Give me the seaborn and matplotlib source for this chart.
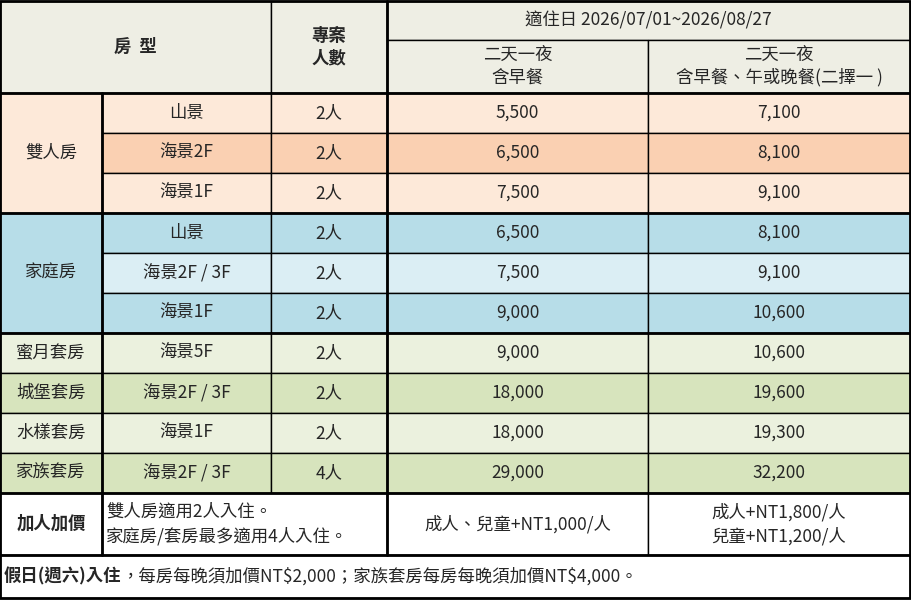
import matplotlib.pyplot as plt
import seaborn as sns
from matplotlib.patches import Rectangle

sns.set_theme(style="white")
plt.rcParams["font.family"] = ["Noto Sans CJK TC", "DejaVu Sans"]

# data
groups = ["雙人房", "家庭房", "蜜月套房", "城堡套房", "水樣套房", "家族套房"]
group_rows = [3, 3, 1, 1, 1, 1]
views = ["山景", "海景2F", "海景1F", "山景", "海景2F / 3F", "海景1F",
         "海景5F", "海景2F / 3F", "海景1F", "海景2F / 3F"]
people = ["2人"] * 9 + ["4人"]
price_breakfast = [5500, 6500, 7500, 6500, 7500, 9000, 9000, 18000, 18000, 29000]
price_two_meals = [7100, 8100, 9100, 8100, 9100, 10600, 10600, 19600, 19300, 32200]
row_colors = ["#fde9d9", "#fad0b2", "#fde9d9", "#b7dde8", "#dbeef4", "#b7dde8",
              "#ebf1de", "#d7e4bd", "#ebf1de", "#d7e4bd"]
group_colors = ["#fde9d9", "#b7dde8", "#ebf1de", "#d7e4bd", "#ebf1de", "#d7e4bd"]

xs = [0, 102, 271, 387, 648, 910]
header_top, sub_line, body_top, row_h = 1, 40, 93, 40
extra_bottom, note_bottom = 555, 598
FS = 12.5

fig = plt.figure(figsize=(9.11, 6.0), dpi=100)
ax = fig.add_axes([0, 0, 1, 1])
ax.set_xlim(0, 911)
ax.set_ylim(600, 0)
ax.axis("off")


def cell(x0, y0, x1, y1, color, text="", lw=1.0, ha="center", **kw):
    ax.add_patch(Rectangle((x0, y0), x1 - x0, y1 - y0, facecolor=color,
                           edgecolor="black", linewidth=lw))
    if text:
        tx = (x0 + x1) / 2 if ha == "center" else x0 + 4
        ax.text(tx, (y0 + y1) / 2, text, ha=ha, va="center", fontsize=FS, **kw)


hdr = "#eeeee4"
cell(xs[0], header_top, xs[2], body_top, hdr, "房  型", fontweight="bold")
cell(xs[2], header_top, xs[3], body_top, hdr, "專案\n人數", fontweight="bold", linespacing=1.3)
cell(xs[3], header_top, xs[5], sub_line, hdr, "適住日 2026/07/01~2026/08/27")
cell(xs[3], sub_line, xs[4], body_top, hdr, "二天一夜\n含早餐", linespacing=1.3)
cell(xs[4], sub_line, xs[5], body_top, hdr, "二天一夜\n含早餐、午或晚餐(二擇一 )", linespacing=1.3)

r = 0
for g, n, gc in zip(groups, group_rows, group_colors):
    y0 = body_top + r * row_h
    cell(xs[0], y0, xs[1], y0 + n * row_h, gc, g)
    r += n

for i in range(len(views)):
    y0 = body_top + i * row_h
    y1 = y0 + row_h
    c = row_colors[i]
    cell(xs[1], y0, xs[2], y1, c, views[i])
    cell(xs[2], y0, xs[3], y1, c, people[i])
    cell(xs[3], y0, xs[4], y1, c, f"{price_breakfast[i]:,}")
    cell(xs[4], y0, xs[5], y1, c, f"{price_two_meals[i]:,}")

y0 = body_top + len(views) * row_h
cell(xs[0], y0, xs[1], extra_bottom, "white", "加人加價", fontweight="bold")
cell(xs[1], y0, xs[3], extra_bottom, "white",
     "雙人房適用2人入住。\n家庭房/套房最多適用4人入住。", ha="left", linespacing=1.4)
cell(xs[3], y0, xs[4], extra_bottom, "white", "成人、兒童+NT1,000/人")
cell(xs[4], y0, xs[5], extra_bottom, "white", "成人+NT1,800/人\n兒童+NT1,200/人", linespacing=1.4)

cell(xs[0], extra_bottom, xs[5], note_bottom, "white")
t1 = ax.text(4, (extra_bottom + note_bottom) / 2, "假日(週六)入住", fontweight="bold",
             ha="left", va="center", fontsize=FS)
ax.annotate(r"，每房每晚須加價NT\$2,000；家族套房每房每晚須加價NT\$4,000。",
            xy=(1, 0.5), xycoords=t1, ha="left", va="center", fontsize=FS)

# heavier separators
for y in [body_top, 213, 333, 493, 555]:
    ax.plot([0, 910], [y, y], color="black", lw=2)
ax.plot([xs[1], xs[1]], [body_top, extra_bottom], color="black", lw=2)
ax.plot([xs[3], xs[3]], [header_top, extra_bottom], color="black", lw=2)
ax.add_patch(Rectangle((0, header_top), 910, note_bottom - header_top,
                       fill=False, edgecolor="black", linewidth=2))

fig.savefig("out.png", dpi=100)
